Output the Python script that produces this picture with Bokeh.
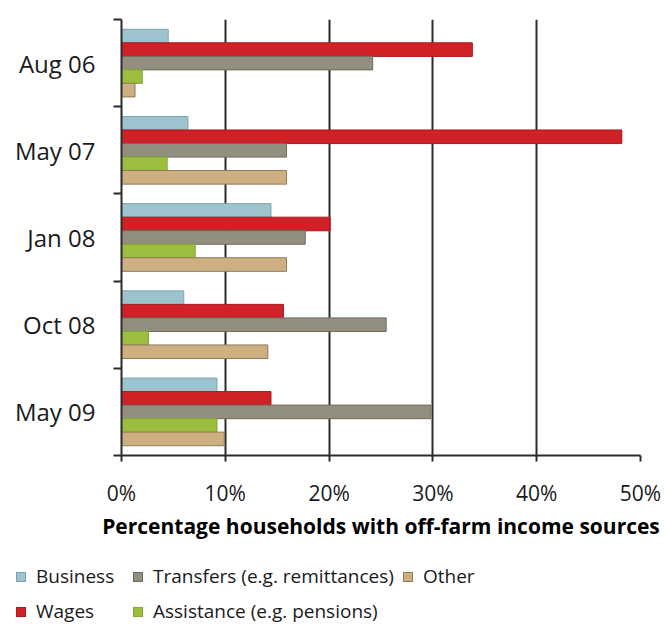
from bokeh.plotting import figure
from bokeh.layouts import column
from bokeh.models import FixedTicker, PrintfTickFormatter, Range1d, Div
from bokeh.embed import file_html
from bokeh.resources import INLINE

periods = ["Aug 06", "May 07", "Jan 08", "Oct 08", "May 09"]
business = [4.5, 6.4, 14.4, 6.0, 9.2]
wages = [33.8, 48.2, 20.1, 15.6, 14.4]
transfers = [24.2, 15.9, 17.7, 25.5, 29.8]
assistance = [2.0, 4.4, 7.1, 2.6, 9.2]
other = [1.3, 15.9, 15.9, 14.1, 9.9]
x_ticks = [0, 10, 20, 30, 40, 50]

series = [
    ("Business", business, "#9DC3CE", "#7FA3AE"),
    ("Wages", wages, "#D02127", "#A81A1F"),
    ("Transfers (e.g. remittances)", transfers, "#938F7F", "#6F6B5E"),
    ("Assistance (e.g. pensions)", assistance, "#9BBE3F", "#84A634"),
    ("Other", other, "#CDAF82", "#8F7A5A"),
]
legend_order = ["Business", "Transfers (e.g. remittances)", "Other", "Wages", "Assistance (e.g. pensions)"]

n = len(periods)
centers = [n - 0.5 - i for i in range(n)]
bar_h = 0.156
offsets = [0.31, 0.155, 0.0, -0.155, -0.31]

FONT = "Open Sans"
p = figure(width=666, height=545, output_backend="svg", toolbar_location=None,
           x_range=Range1d(0, 50), y_range=Range1d(0, n),
           min_border_left=121, min_border_top=19, min_border_right=26,
           min_border_bottom=90)
p.outline_line_color = None

for (name, vals, fill, line), off in zip(series, offsets):
    ys = [c + off for c in centers]
    p.hbar(y=ys, left=0, right=vals, height=bar_h, fill_color=fill,
           line_color=line, line_width=1)

# x axis
p.xaxis.ticker = FixedTicker(ticks=x_ticks)
p.xaxis.formatter = PrintfTickFormatter(format="%d%%")
p.xaxis.axis_line_color = "#2b2b2b"
p.xaxis.axis_line_width = 2
p.xaxis.major_tick_line_color = "#2b2b2b"
p.xaxis.major_tick_line_width = 2
p.xaxis.major_tick_out = 6
p.xaxis.major_tick_in = 0
p.xaxis.minor_tick_line_color = None
p.xaxis.major_label_text_font = FONT
p.xaxis.major_label_text_font_size = "21px"
p.xaxis.major_label_text_color = "#1a1a1a"
p.xaxis.major_label_standoff = 17
p.xaxis.axis_label = "Percentage households with off-farm income sources"
p.xaxis.axis_label_text_font = FONT
p.xaxis.axis_label_text_font_style = "bold"
p.xaxis.axis_label_text_font_size = "21px"
p.xaxis.axis_label_text_color = "#000000"
p.xaxis.axis_label_standoff = 2

# y axis
p.yaxis.ticker = FixedTicker(ticks=centers, minor_ticks=[float(i) for i in range(n + 1)])
p.yaxis.major_label_overrides = {c: lab for c, lab in zip(centers, periods)}
p.yaxis.axis_line_color = "#2b2b2b"
p.yaxis.axis_line_width = 2
p.yaxis.major_tick_line_color = None
p.yaxis.minor_tick_line_color = "#2b2b2b"
p.yaxis.minor_tick_line_width = 2
p.yaxis.minor_tick_out = 8
p.yaxis.minor_tick_in = 0
p.yaxis.major_label_text_font = FONT
p.yaxis.major_label_text_font_size = "24px"
p.yaxis.major_label_text_color = "#1a1a1a"
p.yaxis.major_label_standoff = 18

# grid
p.ygrid.grid_line_color = None
p.xgrid.ticker = FixedTicker(ticks=x_ticks[1:])
p.xgrid.grid_line_color = "#2b2b2b"
p.xgrid.grid_line_width = 2

# legend strip (two rows, three aligned columns)
colors = {name: (fill, line) for name, _, fill, line in series}
cells = []
for nm in legend_order:
    fill, line = colors[nm]
    cells.append(
        f'<div style="display:flex;align-items:center;height:35px;white-space:nowrap;">'
        f'<span style="display:inline-block;width:10px;height:10px;background:{fill};'
        f'border:1px solid {line};margin-right:10px;"></span>'
        f'<span>{nm}</span></div>'
    )
html = ('<div style="display:grid;grid-template-columns:117px 270px auto;'
        f'font-family:\'{FONT}\';font-size:19px;color:#1a1a1a;line-height:35px;'
        'padding-left:16px;padding-top:14px;">' + "".join(cells) + '</div>')
legend_div = Div(text=html, width=666, height=83, margin=0)

open("out.html", "w").write(file_html(column(p, legend_div, spacing=0), INLINE))
